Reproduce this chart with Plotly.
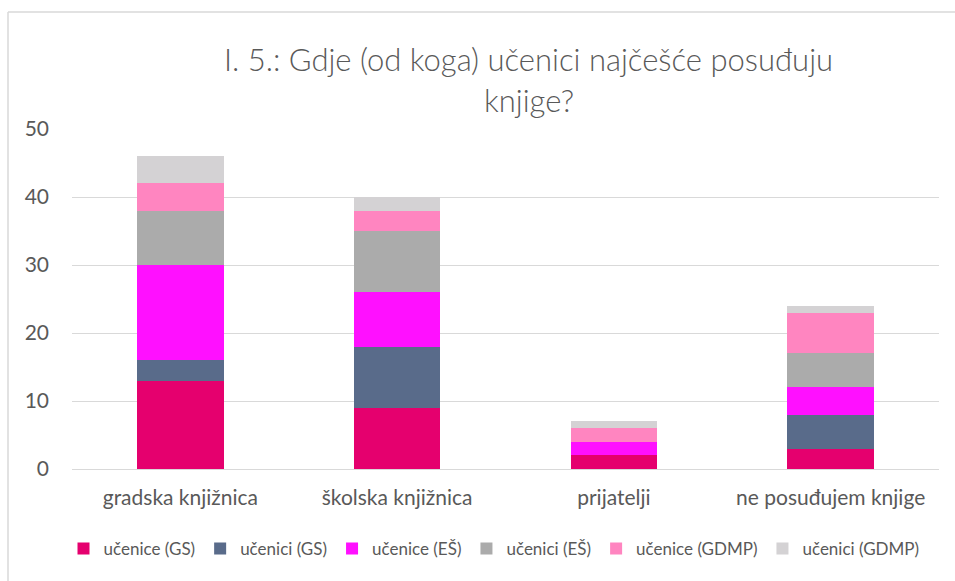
import plotly.graph_objects as go

categories = ["gradska knjižnica", "školska knjižnica", "prijatelji", "ne posuđujem knjige"]
series_names = ["učenice (GS)", "učenici (GS)", "učenice (EŠ)", "učenici (EŠ)", "učenice (GDMP)", "učenici (GDMP)"]
ucenice_gs = [13, 9, 2, 3]
ucenici_gs = [3, 9, 0, 5]
ucenice_es = [14, 8, 2, 4]
ucenici_es = [8, 9, 0, 5]
ucenice_gdmp = [4, 3, 2, 6]
ucenici_gdmp = [4, 2, 1, 1]
colors = ["#E5006E", "#596B8A", "#FF10FF", "#ABABAB", "#FF85C0", "#D4D2D4"]
y_ticks = [0, 10, 20, 30, 40, 50]
title_lines = ["I. 5.: Gdje (od koga) učenici najčešće posuđuju", "knjige?"]

values = [ucenice_gs, ucenici_gs, ucenice_es, ucenici_es, ucenice_gdmp, ucenici_gdmp]

font_family = "Lato, 'Open Sans', sans-serif"
TXT = "#595959"

# page margin removed via post_script; plot area in page coords: x 72..939, y 129..469
W, H = 955, 581
L, R, T, B = 72, 939, 129, 469
PW, PH = R - L, B - T

def px(x):
    return (x - L) / PW

def py(y):
    return (B - y) / PH

fig = go.Figure()
for name, vals, col in zip(series_names, values, colors):
    fig.add_trace(go.Bar(x=categories, y=vals, name=name, marker=dict(color=col, line=dict(width=0))))

annotations = []
for line, yc in zip(title_lines, [59, 100]):
    annotations.append(dict(
        text=line, xref="paper", yref="paper", x=px(528.5), y=py(yc),
        xanchor="center", yanchor="middle", showarrow=False,
        font=dict(size=31, color=TXT, family=font_family, weight=300),
    ))

fig.update_layout(
    barmode="stack",
    bargap=0.6,
    width=W, height=H,
    margin=dict(l=L, r=W - R, t=T, b=H - B),
    paper_bgcolor="white", plot_bgcolor="white",
    font=dict(family=font_family, color=TXT),
    annotations=annotations,
    xaxis=dict(
        tickfont=dict(size=21, color=TXT),
        showgrid=False, showline=True, linecolor="#D9D9D9", linewidth=1,
        ticks="", ticklabelstandoff=10,
    ),
    yaxis=dict(
        range=[0, 50], tickvals=y_ticks,
        tickfont=dict(size=21, color=TXT),
        showgrid=True, gridcolor="#D9D9D9", gridwidth=1,
        zeroline=False, showline=False, ticks="", ticklabelstandoff=22,
    ),
    legend=dict(
        orientation="h", x=px(494), xanchor="center", y=py(549), yanchor="middle",
        font=dict(size=17, color=TXT), traceorder="normal",
        itemwidth=30, tracegroupgap=0,
    ),
    shapes=[
        dict(type="line", xref="paper", yref="paper",
             x0=px(8), x1=px(8), y0=py(H + 5), y1=py(12),
             line=dict(color="#D9D9D9", width=1.5), layer="below"),
        dict(type="line", xref="paper", yref="paper",
             x0=px(8), x1=px(W + 5), y0=py(12), y1=py(12),
             line=dict(color="#D9D9D9", width=1.5), layer="below"),
    ],
)

fig.write_html(
    "out.html",
    config={"displayModeBar": False},
    post_script="document.body.style.margin='0';document.body.style.overflow='hidden';"
                "document.documentElement.style.overflow='hidden';",
)
